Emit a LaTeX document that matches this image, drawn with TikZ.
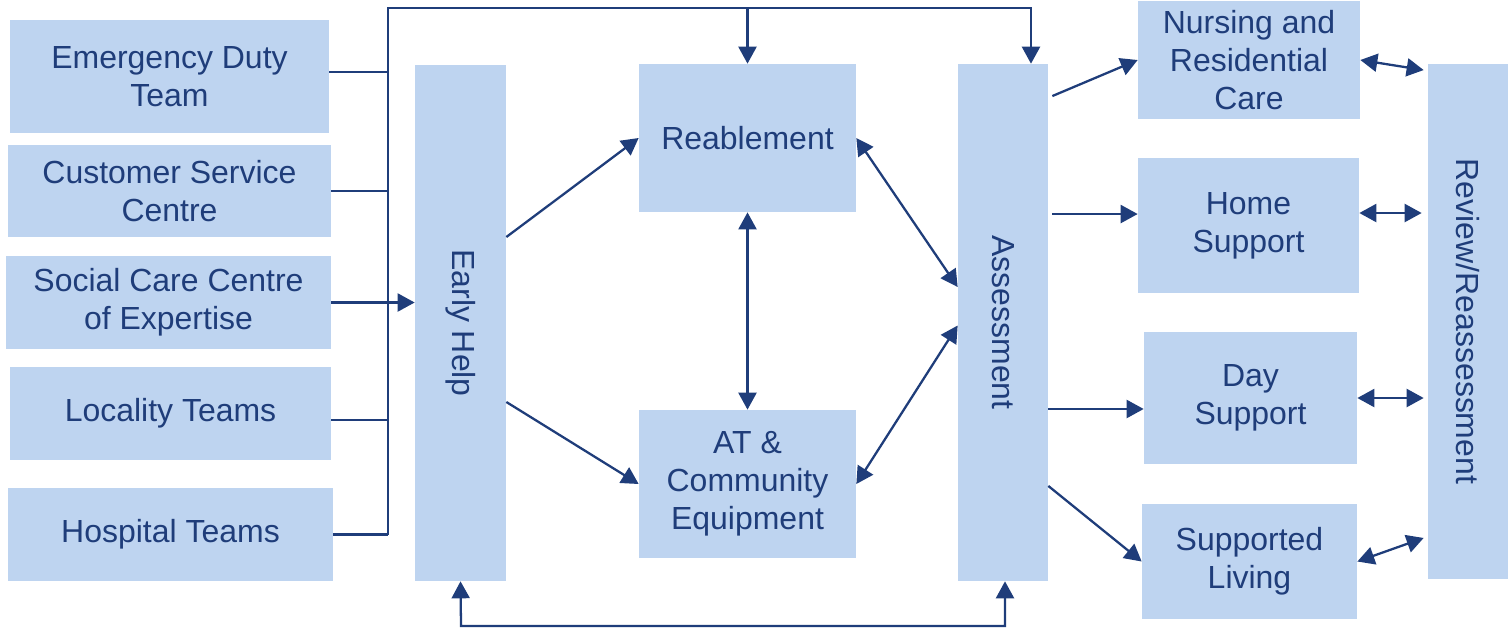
\documentclass[tikz,border=0pt]{standalone}
\usepackage{fontspec}
\setmainfont{Liberation Sans}
\usetikzlibrary{arrows.meta}

\definecolor{boxblue}{HTML}{BED4F0}
\definecolor{navy}{HTML}{1F3D7A}

\begin{document}
\begin{tikzpicture}[
        x=0.02cm, y=-0.02cm,
        every node/.style={font=\fontsize{18.2}{21.6}\selectfont},
        box/.style={fill=boxblue, text=navy, align=center, inner sep=0pt},
        vtext/.style={text=navy, rotate=-90},
        link/.style={draw=navy, line width=1.3pt},
        arr/.style={link, -{Triangle[width=0.36cm, length=0.34cm]}},
        dbl/.style={link, {Triangle[width=0.36cm, length=0.34cm]}-{Triangle[width=0.36cm, length=0.34cm]}}
    ]

    \useasboundingbox (0,0) rectangle (1508,627);

    % --- Referral sources ---
    \node[box, minimum width=6.38cm, minimum height=2.26cm] (edt)  at (169.5,76.5) {Emergency Duty\\Team};
    \node[box, minimum width=6.46cm, minimum height=1.84cm] (csc)  at (169.5,191)  {Customer Service\\Centre};
    \node[box, minimum width=6.50cm, minimum height=1.86cm] (scce) at (168.5,302.5) {Social Care Centre\\of Expertise};
    \node[box, minimum width=6.42cm, minimum height=1.86cm] (loc)  at (170.5,413.5) {Locality Teams};
    \node[box, minimum width=6.50cm, minimum height=1.86cm] (hosp) at (170.5,534.5) {Hospital Teams};

    % --- Tall columns ---
    \node[box, minimum width=1.82cm, minimum height=10.32cm] (early)  at (460.5,323)  {};
    \node[vtext] (earlytxt) at (early) {Early Help};
    \node[box, minimum width=1.80cm, minimum height=10.34cm] (assess) at (1003,322.5) {};
    \node[vtext] (assesstxt) at (assess) {Assessment};
    \node[box, minimum width=1.60cm, minimum height=10.30cm] (review) at (1468,321.5) {};
    \node[vtext] (reviewtxt) at (review) {Review/Reassessment};

    % --- Middle services ---
    \node[box, minimum width=4.34cm, minimum height=2.96cm] (reab) at (747.5,138) {Reablement};
    \node[box, minimum width=4.34cm, minimum height=2.96cm] (at)   at (747.5,484) {AT \&\\Community\\Equipment};

    % --- Outcomes ---
    \node[box, minimum width=4.44cm, minimum height=2.36cm] (nurs) at (1249,60)    {Nursing and\\Residential\\Care};
    \node[box, minimum width=4.42cm, minimum height=2.70cm] (home) at (1248.5,225.5) {Home\\Support};
    \node[box, minimum width=4.26cm, minimum height=2.64cm] (day)  at (1250.5,398) {Day\\Support};
    \node[box, minimum width=4.30cm, minimum height=2.30cm] (supp) at (1249.5,561.5) {Supported\\Living};

    % --- Collecting bus ---
    \coordinate (bus) at (388,72);
    \coordinate (top) at (388,8);
    \coordinate (low) at (461,626);

    \draw[link] (edt.east |- bus) -- (bus);
    \draw[link] (csc.east) -- (csc.east -| bus);
    \draw[link] ([yshift=-0.13cm]loc.east) coordinate (l1) -- (l1 -| bus);
    \draw[link] (hosp.east) -- (hosp.east -| bus);
    \draw[link] (bus) -- (hosp.east -| bus);
    \draw[arr] (scce.east) -- (scce.east -| early.west);

    \draw[arr] (bus) -- (top) -| ([xshift=0.56cm]assess.north);
    \draw[arr] (top -| reab.north) -- (reab.north);

    % --- Early help and reablement ---
    \draw[arr] ([yshift=1.72cm]early.east) -- (reab.west);
    \draw[arr] ([yshift=-1.58cm]early.east) -- (at.west);
    \draw[dbl] (reab.south) -- (at.north);
    \draw[dbl] (reab.east) -- ([yshift=0.71cm]assess.west);
    \draw[dbl] (at.east) -- ([yshift=-0.06cm]assess.west);

    % --- Assessment outcomes ---
    \draw[arr] ([xshift=0.08cm, yshift=4.53cm]assess.east) -- (nurs.west);
    \draw[arr] ([xshift=0.08cm, yshift=2.17cm]assess.east) coordinate (a2) -- (a2 -| home.west);
    \draw[arr] ([yshift=-1.73cm]assess.east) coordinate (a3) -- (a3 -| day.west);
    \draw[arr] ([yshift=-3.27cm]assess.east) -- (supp.west);

    % --- Review loop ---
    \draw[dbl] (nurs.east) -- ([xshift=-0.08cm, yshift=5.03cm]review.west);
    \draw[dbl] ([yshift=0.25cm]home.east) coordinate (r2) -- ([xshift=-0.12cm]r2 -| review.west);
    \draw[dbl] (day.east) -- ([xshift=-0.08cm]day.east -| review.west);
    \draw[dbl] (supp.east) -- ([xshift=-0.08cm, yshift=-4.33cm]review.west);

    % --- Back to early help ---
    \draw[dbl] (early.south) -- (low) -| ([xshift=0.04cm]assess.south);

\end{tikzpicture}
\end{document}
